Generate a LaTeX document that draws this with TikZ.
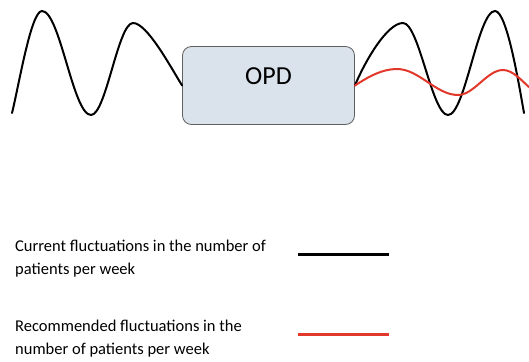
\documentclass[tikz,border=0pt]{standalone}
\usepackage{fontspec}
\setmainfont{Carlito}
\definecolor{boxfill}{HTML}{DAE3EC}
\definecolor{boxline}{HTML}{5F5F5F}
\definecolor{recred}{HTML}{E2382B}

\begin{document}
\begin{tikzpicture}[x=1pt, y=-1pt,
    wave/.style={line width=2pt, line cap=round, black},
    recwave/.style={line width=2pt, line cap=round, recred},
    legend/.style={align=left, anchor=base west, inner sep=0pt, font=\fontsize{16.5}{23}\selectfont},
    legline/.style={line width=3pt}]
    \useasboundingbox (0,0) rectangle (529,361);

    % OPD box
    \node[draw=boxline, fill=boxfill, rounded corners=9pt, line width=0.8pt,
          minimum width=172pt, minimum height=78pt, inner sep=0pt] (opd) at (268.5,85.5) {};
    \node[font=\fontsize{26}{30}\selectfont] (opdlbl) at ([yshift=9.5pt]opd.center) {OPD};

    % incoming fluctuations
    \draw[wave] (12,113) .. controls +(7,-28) and +(-11,0) .. (42,11)
        .. controls +(18,0) and +(-18,0) .. (91,115)
        .. controls +(15,0) and +(-15,0) .. (133,23)
        .. controls +(14,0) and (170,66) .. (opd.west);

    % current outgoing fluctuations
    \draw[wave] (opd.east) .. controls +(10,-24) and +(-16,0) .. (403,23)
        .. controls +(16,0) and +(-16,0) .. (448,115)
        .. controls +(17,0) and +(-17,0) .. (495,11)
        .. controls +(12,0) and +(-5,-28) .. (524,113);

    % recommended outgoing fluctuations
    \draw[recwave] (opd.east) .. controls +(14,-9) and +(-15,0) .. (397,69)
        .. controls +(22,0) and +(-22,0) .. (458,95)
        .. controls +(16,0) and +(-16,0) .. (503,70)
        .. controls +(10,0) and +(-8,-7) .. (530,88);

    % legend (base = last line)
    \node[legend] (curtxt) at (15,274) {Current fluctuations in the number of\\patients per week};
    \node[legend] (rectxt) at (15,354) {Recommended fluctuations in the\\number of patients per week};
    \coordinate (curA) at (298,254.5);
    \coordinate (curB) at (389,254.5);
    \coordinate (recA) at (298,334.5);
    \coordinate (recB) at (389,334.5);
    \draw[legline, black] (curA) -- (curB);
    \draw[legline, recred] (recA) -- (recB);
\end{tikzpicture}
\end{document}
